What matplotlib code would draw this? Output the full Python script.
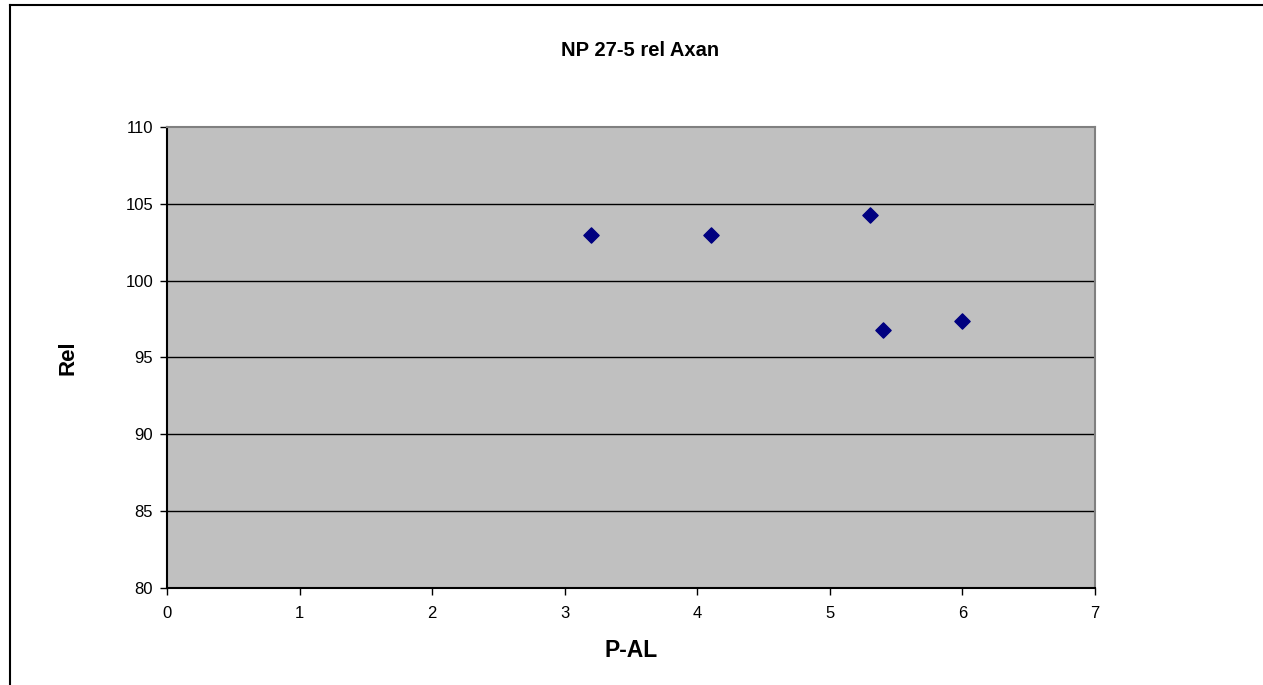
import matplotlib.pyplot as plt
from matplotlib.lines import Line2D

plt.rcParams['font.family'] = ['Liberation Sans', 'DejaVu Sans']

# data
p_al = [3.2, 4.1, 5.3, 5.4, 6.0]
rel = [103.0, 103.0, 104.3, 96.8, 97.4]
x_ticks = [0, 1, 2, 3, 4, 5, 6, 7]
y_ticks = [80, 85, 90, 95, 100, 105, 110]

fig = plt.figure(figsize=(12.63, 6.85), dpi=100)
ax = fig.add_axes([167 / 1263, 1 - 588 / 685, (1095 - 167) / 1263, (588 - 127) / 685])

ax.set_facecolor('#c0c0c0')
ax.scatter(p_al, rel, marker='D', s=60, color='#000080', zorder=3)

ax.set_xlim(0, 7)
ax.set_ylim(80, 110)
ax.set_xticks(x_ticks)
ax.set_yticks(y_ticks)
ax.tick_params(direction='out', length=5, width=1, labelsize=12, colors='black')
ax.tick_params(axis='x', pad=8)
ax.tick_params(axis='y', pad=5)

for v in y_ticks[1:-1]:
    ax.axhline(v, color='black', lw=1, zorder=1)

ax.spines['left'].set_color('black')
ax.spines['bottom'].set_color('black')
ax.spines['top'].set_color('#808080')
ax.spines['right'].set_color('#808080')
for s in ax.spines.values():
    s.set_linewidth(1.5)

ax.set_xlabel('P-AL', fontsize=16.5, fontweight='bold', labelpad=13)
ax.set_ylabel('Rel', fontsize=16, fontweight='bold', labelpad=34)
fig.text(640 / 1263, 1 - 51 / 685, 'NP 27-5 rel Axan', fontsize=14.5, fontweight='bold',
         ha='center', va='center')

# outer chart border (top and left visible)
fig.add_artist(Line2D([9.5 / 1263, 1.01], [1 - 4.5 / 685, 1 - 4.5 / 685], color='black', lw=1.5,
                      transform=fig.transFigure))
fig.add_artist(Line2D([9.5 / 1263, 9.5 / 1263], [1 - 4.5 / 685, -0.01], color='black', lw=1.5,
                      transform=fig.transFigure))

fig.savefig('out.png', dpi=100)
